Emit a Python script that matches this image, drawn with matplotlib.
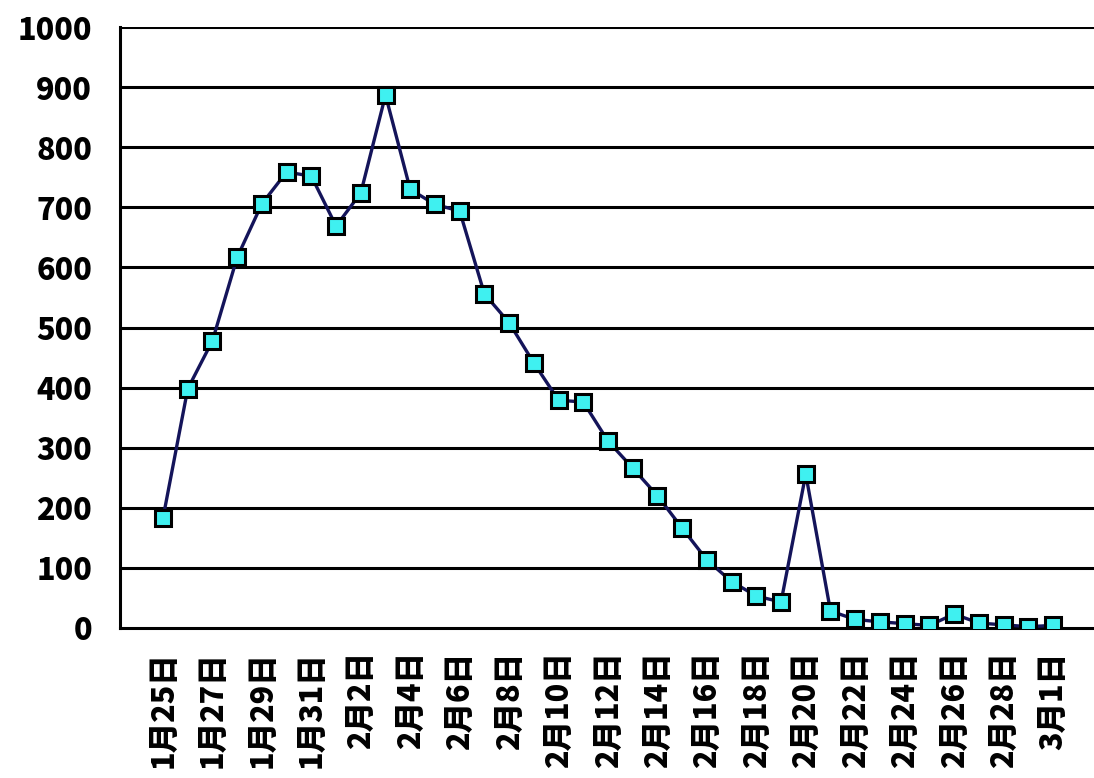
import matplotlib
matplotlib.use("Agg")
import matplotlib.pyplot as plt

plt.rcParams['font.family'] = ['Noto Sans CJK JP', 'DejaVu Sans']

# daily values, 1/25 .. 3/1 (2020, leap year)
dates = (["1月%d日" % d for d in range(25, 32)]
         + ["2月%d日" % d for d in range(1, 30)]
         + ["3月1日"])
values = [183, 398, 478, 617, 706, 759, 752, 669, 724, 887,
          730, 705, 694, 556, 508, 441, 379, 376, 311, 266,
          220, 166, 113, 77, 53, 43, 256, 28, 14, 10,
          7, 4, 23, 8, 5, 2, 4]
yticks = list(range(0, 1001, 100))

fig = plt.figure(figsize=(10.94, 7.78), dpi=100)
ax = fig.add_axes([0.1097, 0.193, 0.8903, 0.772])

x = list(range(len(values)))
ax.plot(x, values, color="#14145a", lw=2.4, marker="s", ms=11,
        mfc="#3ff0f0", mec="black", mew=2.2, zorder=3)

ax.set_ylim(0, 1000)
ax.set_xlim(-1.74, 37.66)
ax.set_yticks(yticks)
ax.set_yticklabels([str(v) for v in yticks], fontsize=22, fontweight="heavy")
ax.set_xticks(x[::2])
ax.set_xticklabels(dates[::2], rotation=90, fontsize=22, fontweight="heavy",
                   va="top", ha="center")
ax.tick_params(axis="both", length=0)
ax.tick_params(axis="y", pad=20)
ax.tick_params(axis="x", pad=17)

for v in yticks[1:]:
    ax.axhline(v, color="black", lw=2.2, zorder=1)
for s in ("top", "right"):
    ax.spines[s].set_visible(False)
ax.spines["left"].set_linewidth(2.2)
ax.spines["bottom"].set_linewidth(2.2)

fig.savefig("out.png", dpi=100)
